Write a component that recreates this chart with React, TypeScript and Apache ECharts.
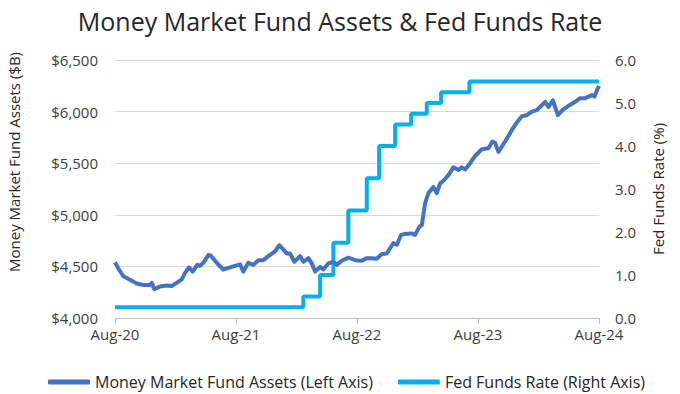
import React, { useEffect, useRef } from "react";
import * as echarts from "echarts";

const xTickLabels = ["Aug-20", "Aug-21", "Aug-22", "Aug-23", "Aug-24"];

// months since Aug-2020
const mmfMonths = [
  0, 0.33, 0.82, 1.49, 2.15, 2.81, 3.47, 3.64, 3.9, 4.46, 5.13, 5.63, 6.12, 6.62, 6.94, 7.34, 7.71,
  8.16, 8.43, 8.76, 9.26, 9.49, 10.09, 10.74, 11.41, 12.23, 12.4, 12.73, 13.22, 13.72, 14.22, 14.71,
  15.21, 15.87, 16.3, 16.6, 17.03, 17.36, 17.79, 18.35, 18.68, 19.18, 19.51, 19.84, 20.34, 20.66,
  21.16, 21.66, 21.99, 22.49, 23.14, 23.81, 24.47, 24.97, 25.47, 25.96, 26.46, 26.95, 27.61, 27.95,
  28.37, 28.77, 29.43, 29.76, 30.19, 30.43, 30.75, 31.08, 31.58, 31.91, 32.24, 32.57, 33.07, 33.56,
  34.06, 34.39, 34.72, 35.22, 35.71, 36.38, 37.03, 37.43, 37.7, 38.03, 38.69, 39.35, 39.85, 40.35,
  40.84, 41.34, 41.84, 42.16, 42.66, 42.99, 43.42, 43.92, 44.38, 44.97, 45.63, 46.13, 46.63, 47.29,
  47.55, 47.79, 48,
];
const mmfAssets = [
  4540, 4480, 4405, 4370, 4335, 4320, 4320, 4340, 4280, 4305, 4315, 4310, 4340, 4375, 4435, 4490, 4450,
  4515, 4505, 4535, 4610, 4605, 4535, 4470, 4490, 4515, 4520, 4450, 4535, 4515, 4560, 4560,
  4600, 4645, 4705, 4675, 4625, 4625, 4545, 4600, 4545, 4580, 4530, 4450, 4495, 4470,
  4530, 4545, 4515, 4555, 4585, 4560, 4555, 4580, 4580, 4575, 4620, 4625, 4725, 4710,
  4805, 4815, 4820, 4805, 4885, 4900, 5110, 5210, 5270, 5210, 5305, 5330, 5385, 5460,
  5435, 5460, 5440, 5500, 5570, 5635, 5645, 5710, 5695, 5610, 5710, 5820, 5895, 5955,
  5965, 6000, 6015, 6045, 6095, 6045, 6110, 5965, 6015, 6055, 6095, 6130, 6130, 6160,
  6145, 6205, 6250,
];

// Fed funds rate (upper bound) change points, months since Aug-2020
const fedMonths = [0, 18.68, 20.34, 21.66, 23.14, 24.97, 26.19, 27.78, 29.37, 30.92, 32.34, 35.15, 48];
const fedRate = [0.25, 0.5, 1.0, 1.75, 2.5, 3.25, 4.0, 4.5, 4.75, 5.0, 5.25, 5.5, 5.5];

const FONT = "Open Sans";
const TXT = "#404040";

export default function App() {
  const ref = useRef<HTMLDivElement>(null);
  useEffect(() => {
    if (!ref.current) return;
    const chart = echarts.init(ref.current, null, { renderer: "svg" });
    chart.setOption({
      animation: false,
      backgroundColor: "#ffffff",
      textStyle: { fontFamily: FONT },
      title: {
        text: "Money Market Fund Assets & Fed Funds Rate",
        left: "center",
        top: 3,
        textStyle: { fontFamily: FONT, fontSize: 25, fontWeight: "normal", color: "#262626" },
      },
      graphic: [
        {
          type: "text",
          x: 14,
          y: 162,
          rotation: Math.PI / 2,
          style: {
            text: "Money Market Fund Assets ($B)",
            fontFamily: FONT,
            fontSize: 15,
            fill: "#262626",
            textAlign: "center",
            textVerticalAlign: "middle",
          },
        },
        {
          type: "text",
          x: 658,
          y: 189,
          rotation: Math.PI / 2,
          style: {
            text: "Fed Funds Rate (%)",
            fontFamily: FONT,
            fontSize: 15,
            fill: "#262626",
            textAlign: "center",
            textVerticalAlign: "middle",
          },
        },
      ],
      legend: {
        left: 43,
        top: 369,
        itemWidth: 42,
        itemHeight: 5,
        itemGap: 25,
        icon: "roundRect",
        textStyle: { fontFamily: FONT, fontSize: 16, color: "#262626" },
        data: ["Money Market Fund Assets (Left Axis)", "Fed Funds Rate (Right Axis)"],
      },
      grid: { left: 115, right: 81, top: 60, bottom: 76 },
      xAxis: {
        type: "value",
        min: 0,
        max: 48,
        interval: 12,
        axisLine: { show: true, lineStyle: { color: "#BFBFBF", width: 1 } },
        axisTick: { show: true, length: 6, lineStyle: { color: "#BFBFBF" } },
        splitLine: { show: false },
        axisLabel: {
          color: TXT,
          fontFamily: FONT,
          fontSize: 15,
          margin: 8,
          formatter: (v: number) => xTickLabels[Math.round(v / 12)] ?? "",
        },
      },
      yAxis: [
        {
          type: "value",
          min: 4000,
          max: 6500,
          interval: 500,
          axisLine: { show: false },
          axisTick: { show: false },
          splitLine: { lineStyle: { color: "#D9D9D9", width: 1 } },
          axisLabel: {
            color: TXT,
            fontFamily: FONT,
            fontSize: 15,
            margin: 17,
            formatter: (v: number) => "$" + v.toLocaleString("en-US"),
          },
        },
        {
          type: "value",
          min: 0,
          max: 6,
          interval: 1,
          position: "right",
          axisLine: { show: false },
          axisTick: { show: false },
          splitLine: { show: false },
          axisLabel: {
            color: TXT,
            fontFamily: FONT,
            fontSize: 15,
            margin: 16,
            formatter: (v: number) => v.toFixed(1),
          },
        },
      ],
      series: [
        {
          name: "Money Market Fund Assets (Left Axis)",
          type: "line",
          yAxisIndex: 0,
          showSymbol: false,
          symbol: "none",
          color: "#4472C4",
          lineStyle: { width: 4, color: "#4472C4", join: "round" },
          data: mmfMonths.map((m, i) => [m, mmfAssets[i]]),
          z: 3,
        },
        {
          name: "Fed Funds Rate (Right Axis)",
          type: "line",
          yAxisIndex: 1,
          step: "end",
          showSymbol: false,
          symbol: "none",
          color: "#00B0F0",
          lineStyle: { width: 4, color: "#00B0F0" },
          data: fedMonths.map((m, i) => [m, fedRate[i]]),
          z: 2,
        },
      ],
    });
    return () => chart.dispose();
  }, []);
  return (
    <div
      ref={ref}
      style={{ position: "absolute", left: 0, top: 0, width: 680, height: 394 }}
    />
  );
}
